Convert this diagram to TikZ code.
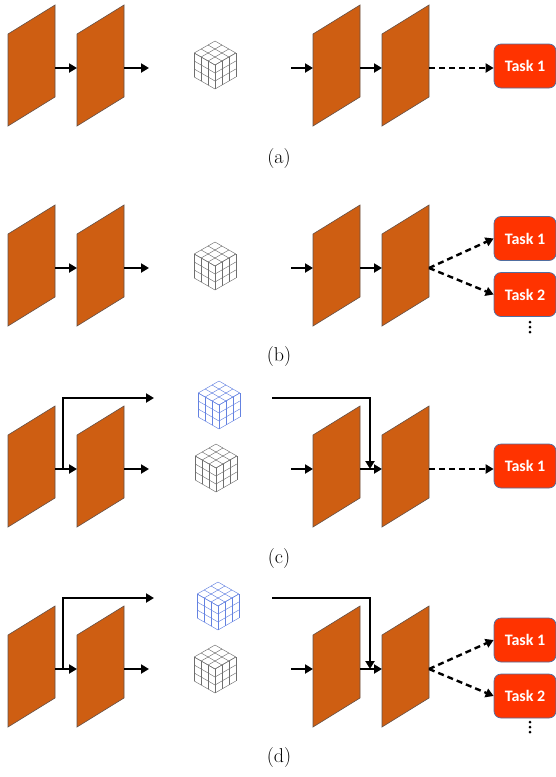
\documentclass[tikz,border=0pt]{standalone}
\usepackage{fontspec}
\newfontfamily\taskfont{Carlito}
\usetikzlibrary{arrows.meta}
\definecolor{planeorange}{RGB}{206,94,18}
\definecolor{planeedge}{RGB}{100,80,70}
\definecolor{taskred}{RGB}{255,51,0}
\definecolor{taskedge}{RGB}{80,110,160}
\definecolor{cubegray}{RGB}{110,110,110}
\definecolor{cubeblue}{RGB}{100,130,225}
\tikzset{
  planeshape/.style={fill=planeorange, draw=planeedge, line width=0.6pt},
  arr/.style={line width=2.4pt, -{Triangle[length=8pt,width=9pt]}},
  darr/.style={line width=2.4pt, dash pattern=on 6pt off 4pt, -{Triangle[length=8pt,width=9pt]}},
  task/.style={rectangle, rounded corners=7pt, fill=taskred, draw=taskedge, line width=0.7pt,
    minimum width=62pt, minimum height=44pt, text=white, font=\taskfont\bfseries\fontsize{16}{18}\selectfont},
  caption/.style={font=\fontsize{20}{24}\selectfont},
}
% cube: #1 x, #2 y (centre vertex), #3 colour
\newcommand\mycube[3]{%
  \begin{scope}[shift={(#1,#2)}, draw=#3, line width=0.45pt]
    \foreach \k in {0,1,2,3} {
      \draw ({-20.8*\k/3},{-4*\k}) -- ++(20.8,-12);
      \draw ({20.8*\k/3},{-4*\k}) -- ++(-20.8,-12);
      \draw (0,{8*\k}) -- ++(-20.8,-12);
      \draw ({-20.8*\k/3},{-4*\k}) -- ++(0,24);
      \draw (0,{8*\k}) -- ++(20.8,-12);
      \draw ({20.8*\k/3},{-4*\k}) -- ++(0,24);
    }
  \end{scope}}
% planes and main arrows: #1 dy, #2 prefix
\newcommand\myplanes[2]{%
  \foreach \L/\n in {8/1,77/2,313/3,382/4} {
    \draw[planeshape] (\L,#1+126) -- (\L,#1+34) -- (\L+47,#1+5) -- (\L+47,#1+97) -- cycle;
    \coordinate (#2p\n w) at (\L,#1+68);
    \coordinate (#2p\n e) at (\L+47,#1+68);
  }
  \coordinate (#2o) at (149,#1+68);
  \coordinate (#2i) at (291,#1+68);
  \draw[arr] (#2p1e) -- (#2p2w);
  \draw[arr] (#2p2e) -- (#2o);
  \draw[arr] (#2i) -- (#2p3w);
  \draw[arr] (#2p3e) -- (#2p4w);
}
% skip branch: #1 dy, #2 prefix
\newcommand\mybranch[2]{%
  \coordinate (#2b1) at (63,#1+68);
  \coordinate (#2bo) at (154,#1-3);
  \coordinate (#2bi) at (272,#1-3);
  \coordinate (#2bt) at (370,#1+68);
  \draw[arr] (#2b1) |- (#2bo);
  \draw[arr] (#2bi) -| (#2bt);
}
\newcommand\mydots[1]{%
  \foreach \yy in {0,5,10} { \fill (530,#1+\yy) circle (1.5); }
}
\begin{document}
\begin{tikzpicture}[x=1pt,y=-1pt]
\useasboundingbox (0,0) rectangle (556,777);
% (a)
\myplanes{0}{a}
\mycube{215}{65}{cubegray}
\node[task] (at1) at (525,66) {Task 1};
\draw[darr] (ap4e) -- (ap4e -| at1.west);
\node[caption] (capa) at (279,159) {(a)};
% (b)
\myplanes{200}{b}
\mycube{215}{266}{cubegray}
\node[task] (bt1) at (525,238.5) {Task 1};
\node[task] (bt2) at (525,294.5) {Task 2};
\draw[darr] (bp4e) -- (bt1.west);
\draw[darr] (bp4e) -- (bt2.west);
\mydots{322}
\node[caption] (capb) at (279,357) {(b)};
% (c)
\myplanes{401}{c}
\mybranch{401}{c}
\mycube{219}{405}{cubeblue}
\mycube{216}{468}{cubegray}
\node[task] (ct1) at (525,466) {Task 1};
\draw[darr] (cp4e) -- (cp4e -| ct1.west);
\node[caption] (capc) at (279,559) {(c)};
% (d)
\myplanes{601}{d}
\mybranch{601}{d}
\mycube{218}{606}{cubeblue}
\mycube{215}{669}{cubegray}
\node[task] (dt1) at (525,640) {Task 1};
\node[task] (dt2) at (525,696) {Task 2};
\draw[darr] (dp4e) -- (dt1.west);
\draw[darr] (dp4e) -- (dt2.west);
\mydots{722}
\node[caption] (capd) at (279,757) {(d)};
\end{tikzpicture}
\end{document}
